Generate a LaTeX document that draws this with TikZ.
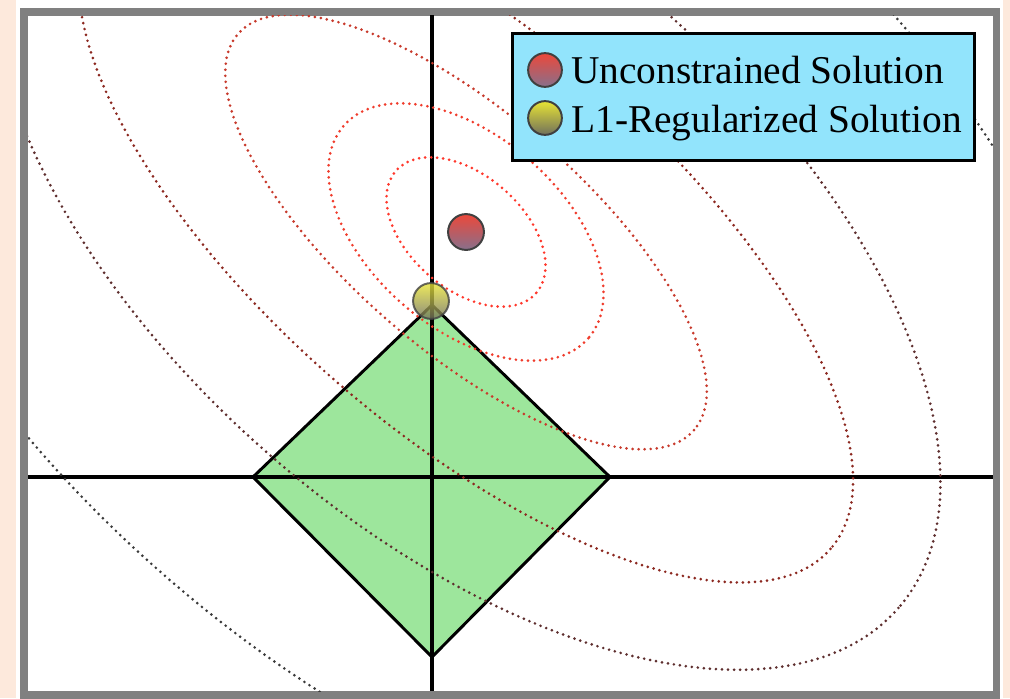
\documentclass[tikz,border=0pt]{standalone}
\usepackage{fontspec}
\setmainfont{Liberation Serif}
\begin{document}
\begin{tikzpicture}[x=0.025cm, y=-0.025cm]

% --- Styles ---
\tikzset{
    frame/.style={draw=black!50, line width=5pt},
    axis/.style={draw=black, line width=2.8pt},
    diamondset/.style={fill={rgb,255:red,157;green,230;blue,156}, draw=black, line width=2.1pt},
    contour/.style={line width=2.1pt, line cap=round, dash pattern=on 0pt off 4.3pt},
    ball/.style={circle, draw=black!75, line width=1.4pt, inner sep=0pt, minimum size=25.5pt},
    redball/.style={ball, top color={rgb,255:red,236;green,72;blue,58}, bottom color={rgb,255:red,136;green,112;blue,140}},
    yellowball/.style={ball, top color={rgb,255:red,232;green,228;blue,52}, bottom color={rgb,255:red,112;green,112;blue,92}},
    legendbox/.style={rectangle, draw=black, line width=2.5pt, fill={rgb,255:red,146;green,228;blue,252}, minimum width=328.8pt, minimum height=90pt, inner sep=0pt},
    legendtext/.style={anchor=base west, inner sep=0pt, font=\fontsize{28pt}{33pt}\selectfont}
}
\definecolor{peach}{RGB}{253,233,220}
\definecolor{ellA}{RGB}{255,56,44}
\definecolor{ellB}{RGB}{240,60,44}
\definecolor{ellC}{RGB}{200,58,44}
\definecolor{ellD}{RGB}{140,40,32}
\definecolor{ellE}{RGB}{94,46,46}
\definecolor{ellF}{RGB}{58,58,58}

    % Achtergrond en kader
    \useasboundingbox (0,0) rectangle (1010,698);
    \fill[peach] (0,0) rectangle (1010,698);
    \fill[white] (16,0) rectangle (1003,698);
    \draw[frame] (24,12) rectangle (996.5,695);

    % Hoekpunten van de L1-bal
    \coordinate (dtop) at (432,305);
    \coordinate (dright) at (610,477);
    \coordinate (dbottom) at (432,657);
    \coordinate (dleft) at (253,477);
    \filldraw[diamondset] (dtop) -- (dright) -- (dbottom) -- (dleft) -- cycle;

    % Assen
    \coordinate (ytop) at (432,15);
    \coordinate (ybot) at (432,691);
    \coordinate (xleft) at (28,477);
    \coordinate (xright) at (993,477);
    \draw[axis] (ytop) -- (ybot);
    \draw[axis] (xleft) -- (xright);

    % Niveaulijnen rond het onbeperkte minimum
    \coordinate (ctr) at (466,232);
    \begin{scope}
        \clip (28,15) rectangle (993,691);
        \foreach \ra/\rb/\col in {93/57/ellA, 162/96/ellB, 302/118/ellC, 483/198/ellD, 573/297/ellE, 775/457/ellF}
            \draw[contour, draw=\col, rotate around={-41:(ctr)}] (ctr) ellipse [x radius=\ra, y radius=\rb];
    \end{scope}

    % Oplossingen
    \node[redball] (unc) at (ctr) {};
    \node[yellowball, opacity=0.8] (lone) at (431,301) {};

    % Legenda
    \node[legendbox] (legend) at (743.5,97) {};
    \node[redball, minimum size=24pt] (legred) at (545,70) {};
    \node[yellowball, minimum size=24pt] (legyellow) at (545,118) {};
    \node[legendtext] (labunc) at (571,83) {Unconstrained Solution};
    \node[legendtext] (labone) at (571,132) {L1-Regularized Solution};

\end{tikzpicture}
\end{document}
